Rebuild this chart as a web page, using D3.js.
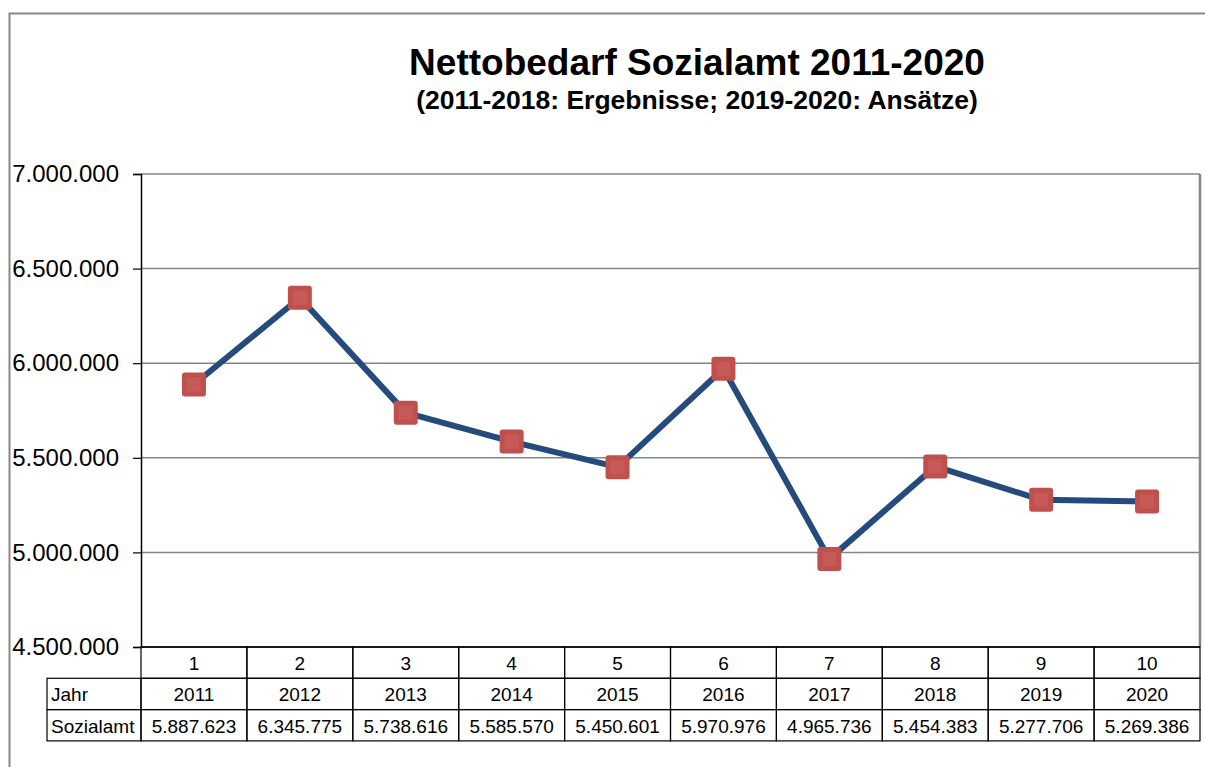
<!DOCTYPE html>
<html>
<head>
<meta charset="utf-8">
<script src="https://cdn.jsdelivr.net/npm/d3@7"></script>
<style>
  body { margin: 0; background: #fff; }
  svg { display: block; font-family: "Liberation Sans", Arial, sans-serif; }
</style>
</head>
<body>
<div id="chart"></div>
<script>
// Nettobedarf Sozialamt 2011-2020

const width = 1205,
    height = 767,
    margin = ({ top: 174, right: 5, bottom: 120, left: 141 });

const years = ["2011", "2012", "2013", "2014", "2015", "2016", "2017", "2018", "2019", "2020"];
const index = ["1", "2", "3", "4", "5", "6", "7", "8", "9", "10"];
const values = [5887623, 6345775, 5738616, 5585570, 5450601, 5970976, 4965736, 5454383, 5277706, 5269386];
const yTicks = [4500000, 5000000, 5500000, 6000000, 6500000, 7000000];

const de = d3.formatLocale({ decimal: ",", thousands: ".", grouping: [3], currency: ["", " €"] });
const fmt = de.format(",d");

const svg = d3.select("#chart")
    .append("svg")
    .attr("width", width)
    .attr("height", height)
    .attr("viewBox", [0, 0, width, height]);

// outer chart frame (runs off the picture on the right / bottom)
svg.append("rect")
    .attr("x", 9.5)
    .attr("y", 13.5)
    .attr("width", 1300)
    .attr("height", 900)
    .attr("fill", "none")
    .attr("stroke", "#888")
    .attr("stroke-width", 2);

const x = d3.scaleBand()
    .domain(years)
    .range([margin.left, width - margin.right]);

const y = d3.scaleLinear()
    .domain([4500000, 7000000])
    .range([height - margin.bottom, margin.top]);

// title
svg.append("text")
    .attr("x", 697)
    .attr("y", 75)
    .attr("text-anchor", "middle")
    .attr("font-size", 37)
    .attr("font-weight", "bold")
    .text("Nettobedarf Sozialamt 2011-2020");

svg.append("text")
    .attr("x", 697)
    .attr("y", 109)
    .attr("text-anchor", "middle")
    .attr("font-size", 26.5)
    .attr("font-weight", "bold")
    .text("(2011-2018: Ergebnisse; 2019-2020: Ansätze)");

// gridlines
svg.append("g")
    .selectAll("line")
    .data(yTicks.slice(1))
    .join("line")
    .attr("x1", margin.left)
    .attr("x2", width - margin.right)
    .attr("y1", d => y(d))
    .attr("y2", d => y(d))
    .attr("stroke", "#868686")
    .attr("stroke-width", 1.5);

// right border of plot
svg.append("line")
    .attr("x1", width - margin.right)
    .attr("x2", width - margin.right)
    .attr("y1", y(7000000))
    .attr("y2", y(4500000))
    .attr("stroke", "#868686")
    .attr("stroke-width", 2.5);

// y axis
const yAxis = svg.append("g")
    .attr("transform", `translate(${margin.left},0)`)
    .call(d3.axisLeft(y).tickValues(yTicks).tickFormat(fmt).tickSize(8).tickPadding(14));

yAxis.select(".domain").attr("stroke", "#000").attr("stroke-width", 1.5);
yAxis.selectAll(".tick line").attr("stroke", "#000").attr("stroke-width", 1.2);
yAxis.selectAll(".tick text")
    .attr("font-size", 24)
    .attr("font-family", "Liberation Sans, Arial, sans-serif")
    .attr("fill", "#000");

// bottom axis line
svg.append("line")
    .attr("x1", margin.left)
    .attr("x2", width - margin.right)
    .attr("y1", y(4500000))
    .attr("y2", y(4500000))
    .attr("stroke", "#000")
    .attr("stroke-width", 1.5);

// line
const line = d3.line()
    .x((d, i) => x(years[i]) + x.bandwidth() / 2)
    .y(d => y(d));

svg.append("path")
    .datum(values)
    .attr("d", line)
    .attr("fill", "none")
    .attr("stroke", "#254B7D")
    .attr("stroke-width", 6)
    .attr("stroke-linejoin", "round");

// markers
const mk = svg.append("g")
    .selectAll("g")
    .data(values)
    .join("g")
    .attr("transform", (d, i) => `translate(${x(years[i]) + x.bandwidth() / 2},${y(d)})`);

mk.append("rect")
    .attr("x", -12).attr("y", -12)
    .attr("width", 24).attr("height", 24)
    .attr("rx", 3)
    .attr("fill", "#C0504D");

mk.append("rect")
    .attr("x", -7).attr("y", -7)
    .attr("width", 14).attr("height", 14)
    .attr("fill", "#C65A57");

// data table
const rowTop = y(4500000),
    rowH = 31.3,
    headLeft = 47;

const table = svg.append("g")
    .attr("font-size", 19)
    .attr("fill", "#000");

// row 1: index numbers
table.selectAll("rect.idx")
    .data(index)
    .join("rect")
    .attr("class", "idx")
    .attr("x", (d, i) => x(years[i]))
    .attr("y", rowTop)
    .attr("width", x.bandwidth())
    .attr("height", rowH)
    .attr("fill", "none")
    .attr("stroke", "#000")
    .attr("stroke-width", 1.2);

table.selectAll("text.idx")
    .data(index)
    .join("text")
    .attr("class", "idx")
    .attr("x", (d, i) => x(years[i]) + x.bandwidth() / 2)
    .attr("y", rowTop + 23)
    .attr("text-anchor", "middle")
    .text(d => d);

const rows = [
    { label: "Jahr", cells: years },
    { label: "Sozialamt", cells: values.map(fmt) }
];

rows.forEach((r, k) => {
    const top = rowTop + rowH * (k + 1);
    table.append("rect")
        .attr("x", headLeft)
        .attr("y", top)
        .attr("width", margin.left - headLeft)
        .attr("height", rowH)
        .attr("fill", "none")
        .attr("stroke", "#000")
        .attr("stroke-width", 1.2);
    table.append("text")
        .attr("x", headLeft + 4)
        .attr("y", top + 23)
        .text(r.label);
    table.append("g")
        .selectAll("rect")
        .data(r.cells)
        .join("rect")
        .attr("x", (d, i) => x(years[i]))
        .attr("y", top)
        .attr("width", x.bandwidth())
        .attr("height", rowH)
        .attr("fill", "none")
        .attr("stroke", "#000")
        .attr("stroke-width", 1.2);
    table.append("g")
        .selectAll("text")
        .data(r.cells)
        .join("text")
        .attr("x", (d, i) => x(years[i]) + x.bandwidth() / 2)
        .attr("y", top + 23)
        .attr("text-anchor", "middle")
        .text(d => d);
});
</script>
</body>
</html>
